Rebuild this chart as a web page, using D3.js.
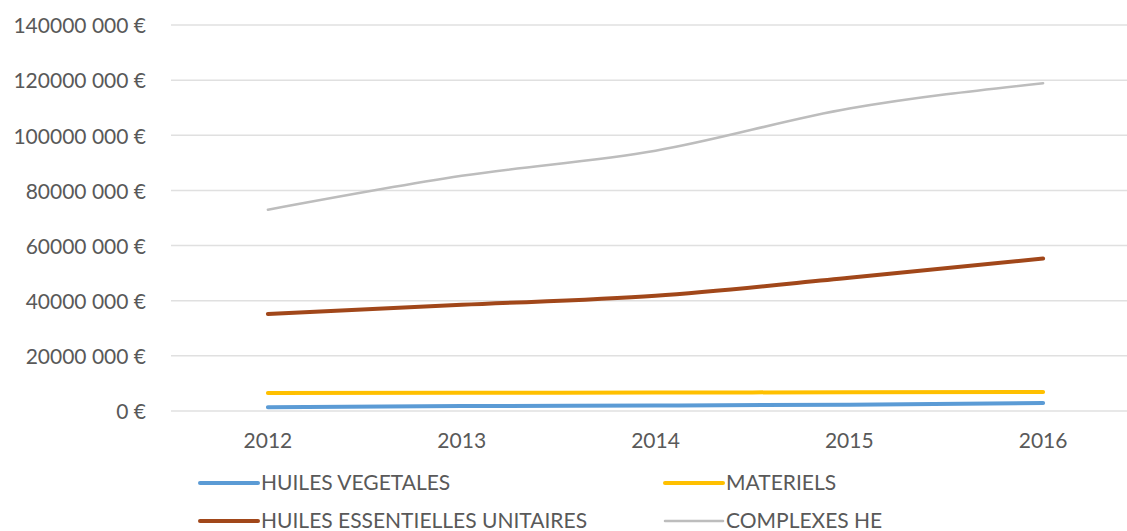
<!DOCTYPE html>
<html><head><meta charset="utf-8">
<script src="https://cdn.jsdelivr.net/npm/d3@7"></script>
<style>body{margin:0;background:#fff}svg text{font-family:Lato,"Open Sans",sans-serif;fill:#595959}</style>
</head><body><svg id="c" width="1127" height="531"></svg>
<script>
const years = ["2012","2013","2014","2015","2016"];
const huilesVegetales = [1400000, 1800000, 2000000, 2300000, 2900000];
const materiels = [6500000, 6600000, 6700000, 6800000, 6900000];
const huilesEssentielles = [35200000, 38500000, 41800000, 48300000, 55300000];
const complexesHE = [73000000, 85300000, 94400000, 109700000, 118900000];
const yTicks = [0, 20000000, 40000000, 60000000, 80000000, 100000000, 120000000, 140000000];
const yTickLabels = ["0 €","20000 000 €","40000 000 €","60000 000 €","80000 000 €","100000 000 €","120000 000 €","140000 000 €"];
const seriesNames = ["HUILES VEGETALES","MATERIELS","HUILES ESSENTIELLES UNITAIRES","COMPLEXES HE"];
const seriesColors = ["#5B9BD5","#FFC000","#A1471A","#BDBDBD"];
const seriesWidths = [4,4,4,2.5];
const seriesData = [huilesVegetales, materiels, huilesEssentielles, complexesHE];

const svg = d3.select("#c");
const x = d3.scaleBand().domain(years).range([171, 1140]);
const y = d3.scaleLinear().domain([0, 140000000]).range([411, 25]);

const grid = svg.append("g");
yTicks.forEach((t,i)=>{
  grid.append("line").attr("x1",171).attr("x2",1127).attr("y1",y(t)).attr("y2",y(t))
    .attr("stroke","#E0E0E0").attr("stroke-width",1.5);
  svg.append("text").attr("x",146).attr("y",y(t)+1).attr("dy","0.35em").attr("text-anchor","end")
    .attr("font-size",21).text(yTickLabels[i]);
});
const xAxis = svg.append("g").attr("transform","translate(0,411)")
  .call(d3.axisBottom(x).tickSize(0).tickPadding(22));
xAxis.select(".domain").remove();
xAxis.selectAll("text").attr("font-size",21).style("font-family","Lato, 'Open Sans', sans-serif").attr("fill","#595959");

const line = d3.line().x((d,i)=>x(years[i])+x.bandwidth()/2).y(d=>y(d)).curve(d3.curveMonotoneX);
seriesData.forEach((s,k)=>{
  svg.append("path").datum(s).attr("d",line).attr("fill","none")
    .attr("stroke",seriesColors[k]).attr("stroke-width",seriesWidths[k]).attr("stroke-linecap","round");
});

const legPos = [[200,483],[665,483],[200,521],[665,521]];
seriesNames.forEach((n,k)=>{
  const [lx,ly]=legPos[k];
  svg.append("line").attr("x1",lx).attr("x2",lx+58).attr("y1",ly).attr("y2",ly)
    .attr("stroke",seriesColors[k]).attr("stroke-width",seriesWidths[k]).attr("stroke-linecap","round");
  svg.append("text").attr("x",lx+61).attr("y",ly).attr("dy","0.35em").attr("font-size",21).text(n);
});
</script></body></html>
